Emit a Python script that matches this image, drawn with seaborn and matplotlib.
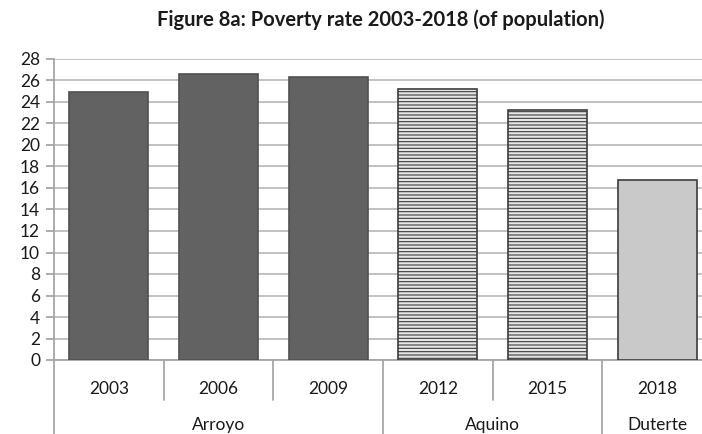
import matplotlib
matplotlib.use("Agg")
import matplotlib.pyplot as plt
import matplotlib.transforms as mtransforms
import numpy as np
import pandas as pd
import seaborn as sns

years = ["2003", "2006", "2009", "2012", "2015", "2018"]
poverty_rate = [24.9, 26.6, 26.3, 25.2, 23.3, 16.7]
president = ["Arroyo", "Arroyo", "Arroyo", "Aquino", "Aquino", "Duterte"]
groups = ["Arroyo", "Aquino", "Duterte"]
y_ticks = list(range(0, 29, 2))

fill_colors = {"Arroyo": "#626262", "Aquino": "#e6e6e6", "Duterte": "#c9c9c9"}
hatches = {"Arroyo": "", "Aquino": "-----", "Duterte": ""}

df = pd.DataFrame({"year": years, "rate": poverty_rate, "president": president})

sns.set_theme(style="white")
plt.rcParams["font.family"] = ["Lato", "DejaVu Sans"]
plt.rcParams["hatch.color"] = "#b4b4b4"
plt.rcParams["hatch.linewidth"] = 0.8

fig = plt.figure(figsize=(7.02, 4.34), dpi=100)
ax = fig.add_axes([54 / 702, 1 - 360 / 434, 658 / 702, 301 / 434])

sns.barplot(data=df, x="year", y="rate", hue="year", palette=[fill_colors[p] for p in president],
            width=0.72, legend=False, ax=ax, zorder=3)
for patch, p in zip(ax.patches, president):
    patch.set_edgecolor("#3c3c3c" if p != "Arroyo" else "#505050")
    patch.set_linewidth(1.2)
    patch.set_hatch(hatches[p])

ax.set_ylim(0, 28)
ax.set_xlim(-0.5, len(years) - 0.5)
ax.set_yticks(y_ticks)
ax.yaxis.grid(True, color="#bdbdbd", linewidth=1.3, zorder=0)
ax.set_axisbelow(True)
for side in ["top", "right"]:
    ax.spines[side].set_visible(False)
ax.spines["left"].set_color("#a6a6a6")
ax.spines["left"].set_linewidth(1.3)
ax.spines["bottom"].set_color("#a6a6a6")
ax.spines["bottom"].set_linewidth(1.3)
ax.tick_params(axis="y", length=6, width=1.3, color="#a6a6a6", labelsize=12.5, pad=4, left=True)
ax.tick_params(axis="x", length=0, labelsize=12.5, pad=15)
for lbl in ax.get_yticklabels() + ax.get_xticklabels():
    lbl.set_color("#1a1a1a")
ax.set_xlabel("")
ax.set_ylabel("")

# category separators below the axis
trans = mtransforms.blended_transform_factory(ax.transData, ax.transAxes)
group_edges = {-0.5}
pos = -0.5
for g in groups:
    pos += president.count(g)
    group_edges.add(pos)
for i in range(len(years) + 1):
    edge = i - 0.5
    bottom = -0.25 if edge in group_edges else -0.133
    ax.plot([edge, edge], [0, bottom], transform=trans, color="#a6a6a6", lw=1.3, clip_on=False)

start = 0
for g in groups:
    n = president.count(g)
    ax.text(start + (n - 1) / 2, -0.215, g, transform=trans, ha="center", va="center",
            fontsize=12.5, color="#1a1a1a")
    start += n

fig.text(0.543, 0.955, "Figure 8a: Poverty rate 2003-2018 (of population)", ha="center", va="center",
         fontsize=14.5, fontweight="bold", color="#1a1a1a")

fig.savefig("out.png", dpi=100)
